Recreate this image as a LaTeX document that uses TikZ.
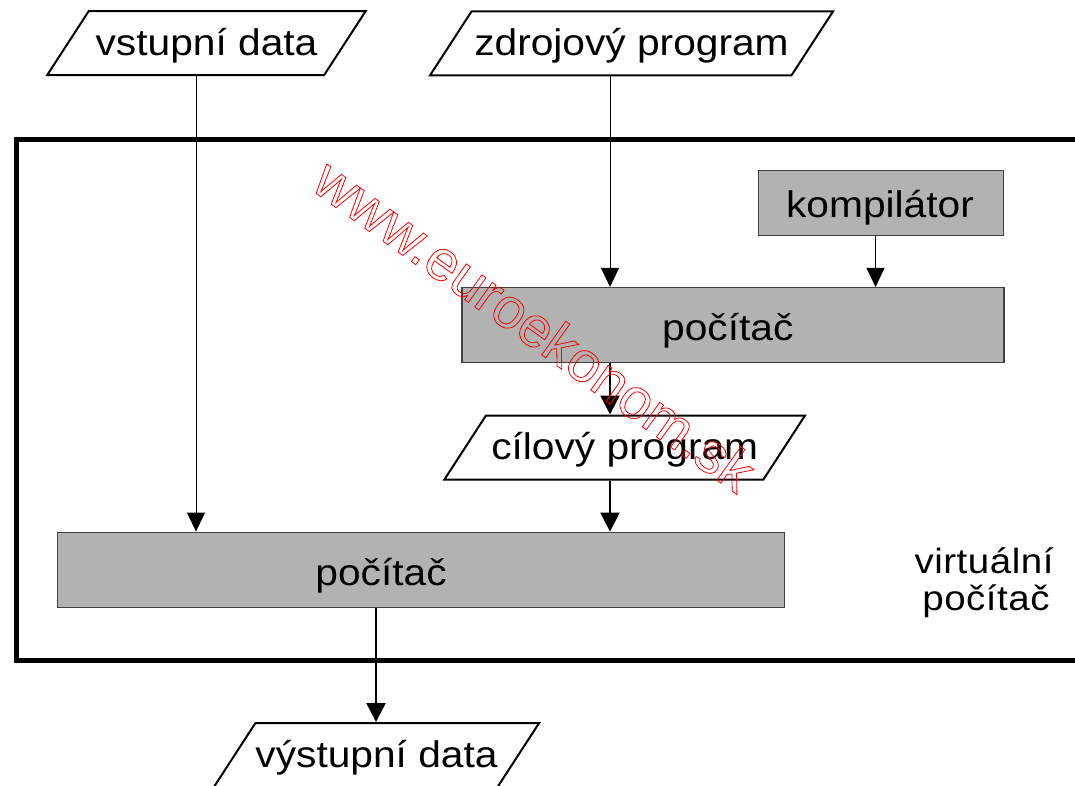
\documentclass[tikz,border=0pt]{standalone}
\usepackage{fontspec}
\setmainfont{Liberation Sans}[FakeStretch=1.1]
\newfontfamily\wideface{Liberation Sans}[FakeStretch=1.1,LetterSpace=1.5]
\newfontfamily\markface{Liberation Sans}
\usetikzlibrary{shapes.geometric,arrows.meta}

% hollow (stroked only) lettering
\newcommand\hollowtext[1]{\special{pdf:literal direct 1 Tr 0.8 w}#1\special{pdf:literal direct 0 Tr}}

\begin{document}
\begin{tikzpicture}[x=1pt, y=-1pt,
  data/.style={trapezium, trapezium left angle=57, trapezium right angle=123,
    trapezium stretches body, draw, line width=2pt, fill=white,
    inner xsep=0pt, inner ysep=14.4pt, text height=29.6pt, text depth=5.6pt},
  unit/.style={draw=black!75, line width=1.5pt, fill=black!30, inner sep=0pt},
  label/.style={anchor=base},
  feed/.style={line width=1pt, -{Triangle[length=19pt,width=18pt]}},
  flow/.style={line width=2.5pt, -{Triangle[length=19pt,width=19pt]}},
  font=\fontsize{37}{44}\selectfont]

\useasboundingbox (0,0) rectangle (1075,785);
\clip (0,0) rectangle (1075,785);
\fill[white] (0,0) rectangle (1075,785);

% virtual machine frame, runs off to the right
\draw[line width=5pt] (16,139) rectangle (1100,660);

\node[data, minimum width=318.5pt] (vstup) at (206.5,43) {vstupní data};
\node[data, minimum width=403pt] (zdroj) at (631.5,43.4) {zdrojový program};

\node[unit, minimum width=245pt, minimum height=64.6pt] (komp) at (880.9,203) {};
\node[label] (komptext) at (880,217) {kompilátor};

\node[unit, minimum width=542pt, minimum height=74.6pt] (pc1) at (732.8,325) {};
\node[label] (pc1text) at (727.8,340) {počítač};

\node[data, minimum width=360.6pt] (cil) at (624.7,447.5) {cílový program};

\node[unit, minimum width=726.7pt, minimum height=75pt] (pc2) at (421,569.8) {};
\node[label] (pc2text) at (381,585.5) {počítač};

\node[data, minimum width=317pt] (vystup) at (376.5,755) {výstupní data};

\node[label, font=\wideface\fontsize{35}{40}\selectfont] (virt1) at (984,573.5) {virtuální};
\node[label, font=\wideface\fontsize{35}{40}\selectfont] (virt2) at (986,610) {počítač};

% columns the connectors run in
\coordinate (colA) at (196,0);
\coordinate (colB) at (610,0);
\coordinate (colC) at (875.5,0);
\coordinate (colD) at (376,0);

\draw[feed] (vstup.south -| colA) -- (pc2.north -| colA);
\draw[feed] (zdroj.south -| colB) -- (pc1.north -| colB);
\draw[feed] (komp.south -| colC) -- (pc1.north -| colC);
\draw[flow] (pc1.south -| colB) -- (cil.north -| colB);
\draw[flow] (cil.south -| colB) -- (pc2.north -| colB);
\draw[flow] (pc2.south -| colD) -- (vystup.north -| colD);

\node[rotate=-35.6, text=red, font=\markface\fontsize{57}{60}\selectfont] (mark) at (535,325)
  {\hollowtext{www.euroekonom.sk}};

\end{tikzpicture}
\end{document}
